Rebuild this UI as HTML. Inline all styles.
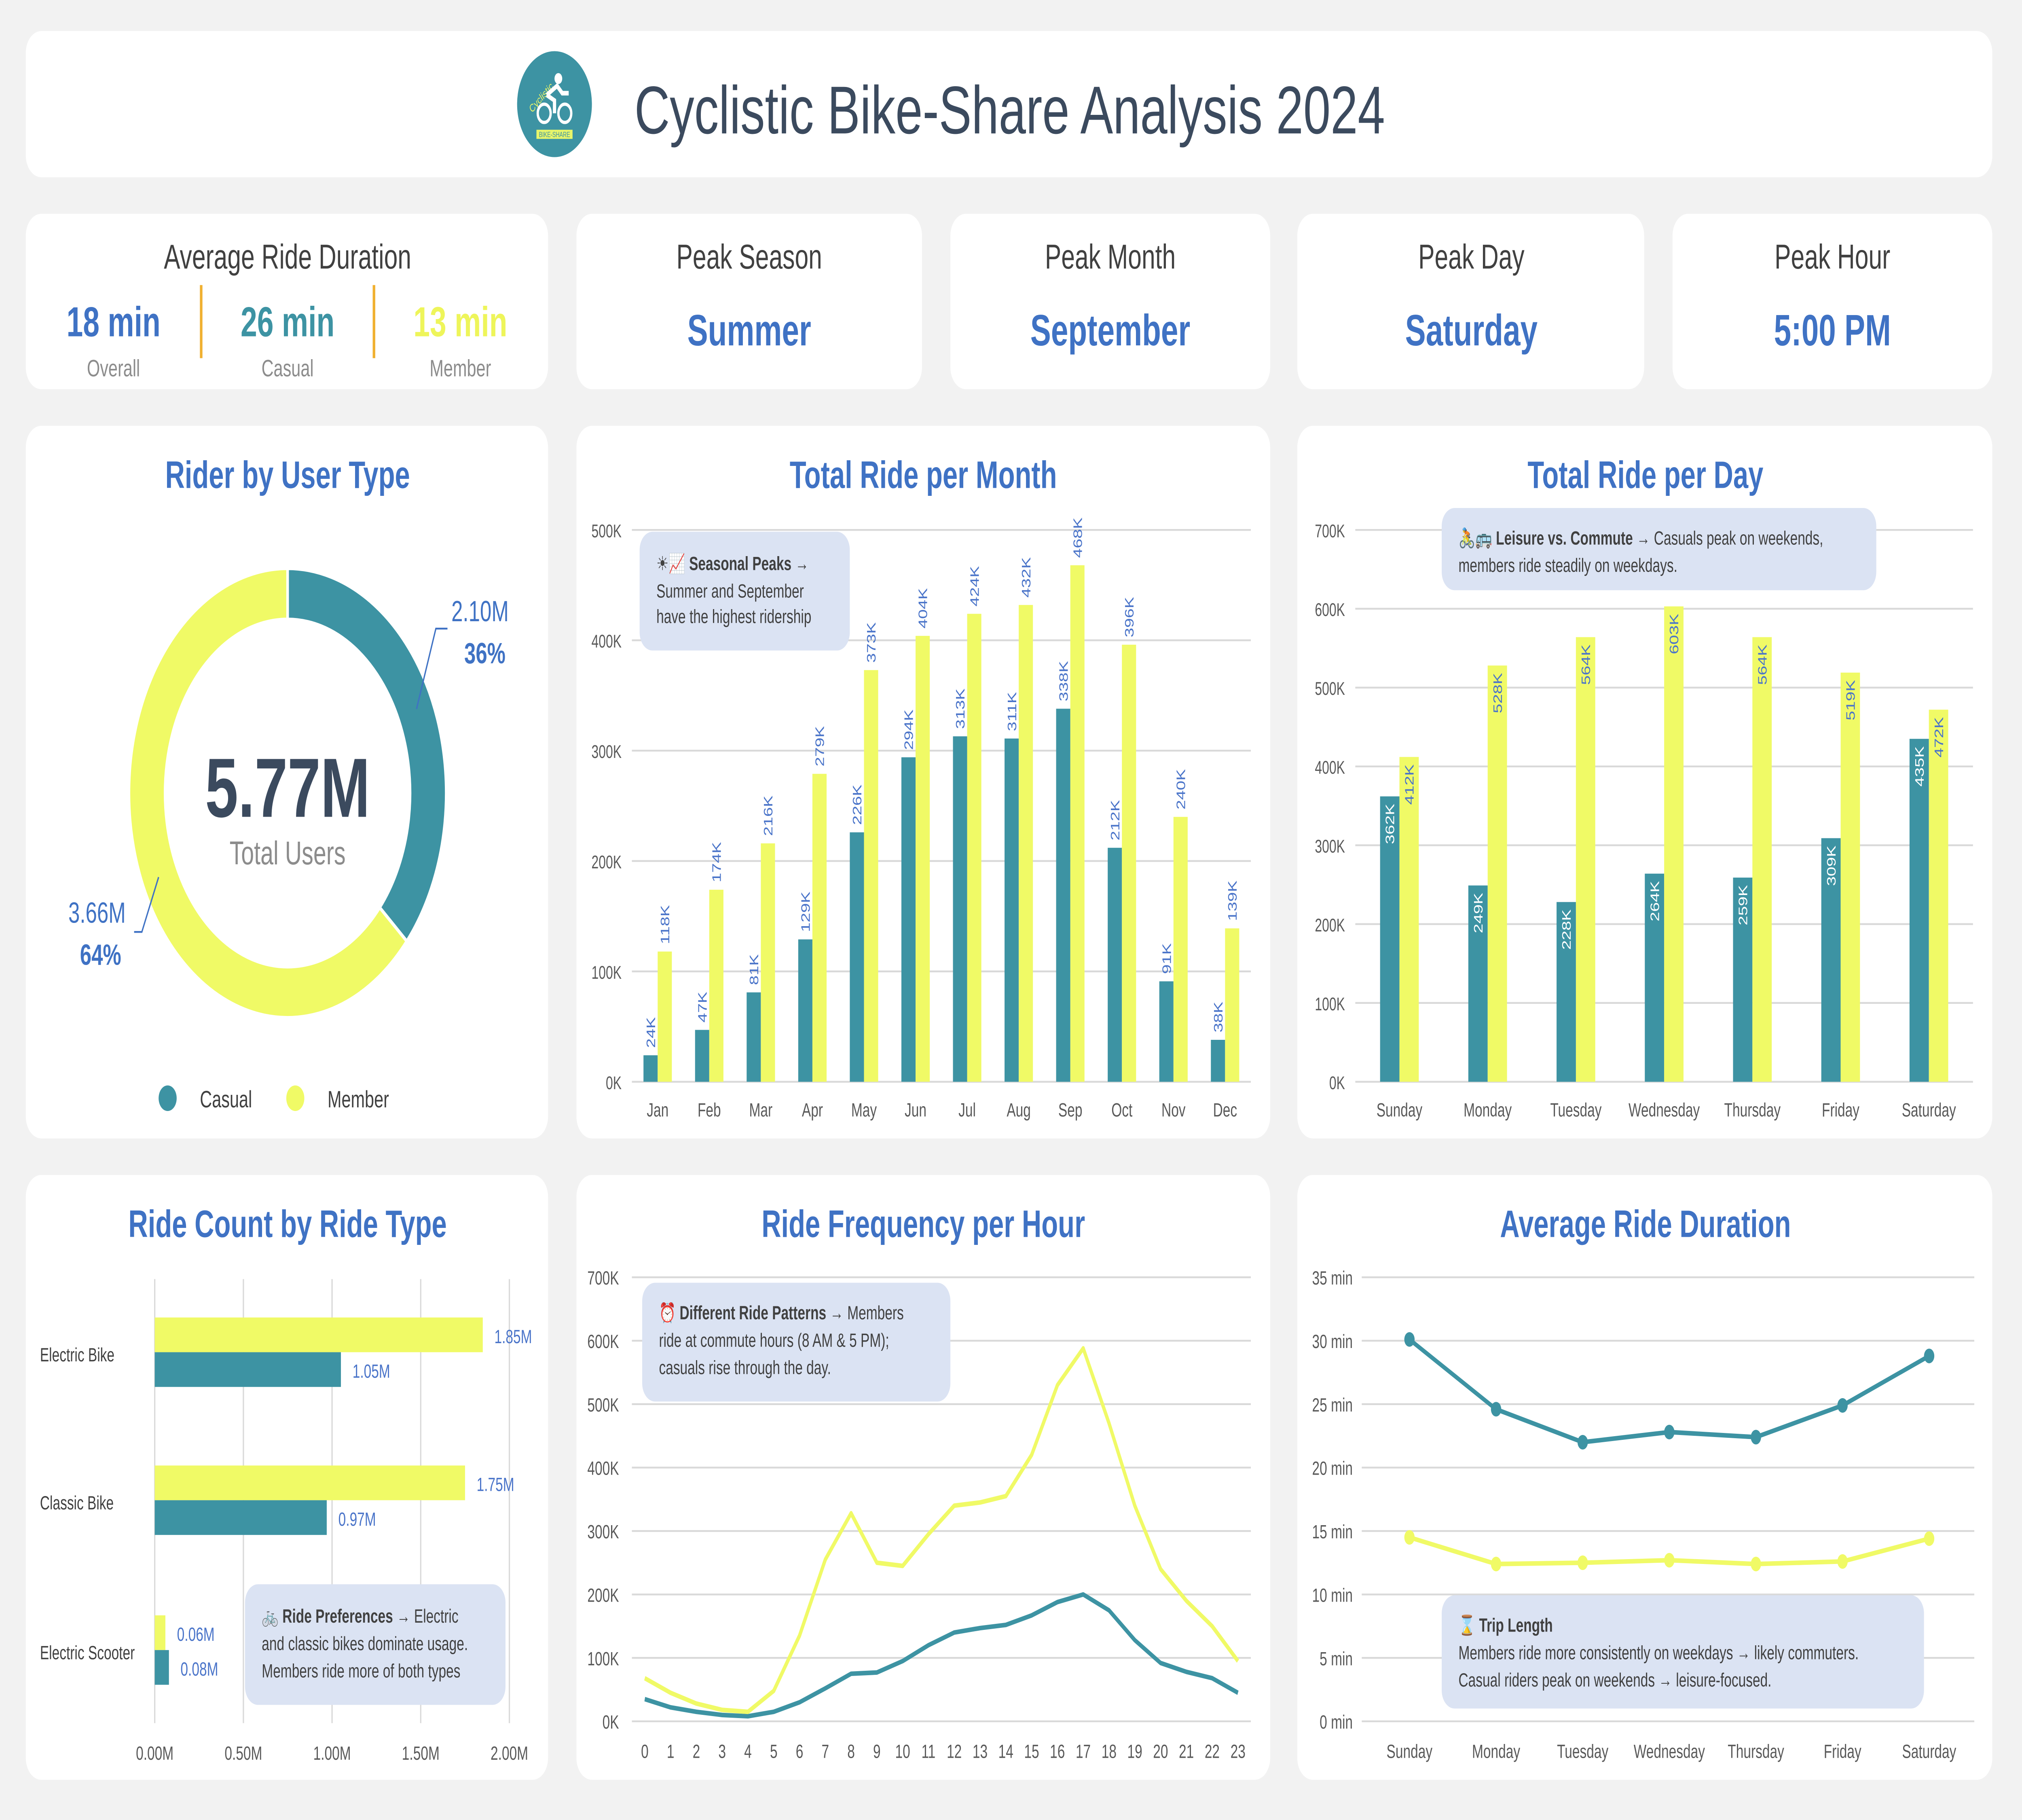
<!DOCTYPE html>
<html><head><meta charset="utf-8">
<style>
html,body{margin:0;padding:0;background:#f2f2f2;width:100%;height:100%;overflow:hidden;}
#wrap{position:fixed;left:0;top:0;width:100vw;height:100vh;overflow:hidden;}
svg{display:block;font-family:"Liberation Sans",sans-serif;width:100vw;height:100vh;}
</style></head>
<body>
<div id="wrap">
<svg id="root" viewBox="0 0 1568 996" preserveAspectRatio="none" xmlns="http://www.w3.org/2000/svg">
<rect x="0" y="0" width="1568" height="996" fill="#f2f2f2"/>
<g>
<rect x="20" y="17" width="1525" height="80" rx="12" fill="#fff"/>
<g>
<circle cx="430" cy="57" r="29" fill="#3d93a3"/>
<text x="406" y="60" font-size="6" fill="#e8f56a" transform="rotate(-40 412 52)">Cyclistic</text>
<circle cx="433" cy="43" r="3" fill="#fff"/>
<path d="M424 52 L432 47 L436 51 L441 51" stroke="#fff" stroke-width="2.5" fill="none"/>
<path d="M424 52 L430 55 L430 62" stroke="#fff" stroke-width="2.5" fill="none"/>
<circle cx="422" cy="62" r="5" stroke="#fff" stroke-width="1.8" fill="none"/>
<circle cx="438" cy="62" r="5" stroke="#fff" stroke-width="1.8" fill="none"/>
<rect x="416" y="71" width="28" height="5" fill="#e8f56a"/>
<text x="430" y="75" font-size="4" fill="#3d93a3" text-anchor="middle">BIKE-SHARE</text>
</g>
<text x="492" y="73" font-size="37" fill="#3b4a5e" textLength="582" lengthAdjust="spacingAndGlyphs">Cyclistic Bike-Share Analysis 2024</text>
</g>
<g>
<rect x="20" y="117" width="405" height="96" rx="12" fill="#fff"/>
<text x="223" y="147" font-size="19" fill="#404040" text-anchor="middle">Average Ride Duration</text>
<text x="88" y="184" font-size="23" fill="#3f72c4" font-weight="bold" text-anchor="middle">18 min</text>
<text x="88" y="206" font-size="13" fill="#8c8c8c" text-anchor="middle">Overall</text>
<rect x="155" y="156" width="2" height="40" fill="#f0b030"/>
<text x="223" y="184" font-size="23" fill="#3d93a3" font-weight="bold" text-anchor="middle">26 min</text>
<text x="223" y="206" font-size="13" fill="#8c8c8c" text-anchor="middle">Casual</text>
<rect x="289" y="156" width="2" height="40" fill="#f0b030"/>
<text x="357" y="184" font-size="23" fill="#eef55a" font-weight="bold" text-anchor="middle">13 min</text>
<text x="357" y="206" font-size="13" fill="#8c8c8c" text-anchor="middle">Member</text>
</g>
<g>
<rect x="447" y="117" width="268" height="96" rx="12" fill="#fff"/>
<text x="581" y="147" font-size="19" fill="#404040" text-anchor="middle">Peak Season</text>
<text x="581" y="189" font-size="24" fill="#3f72c4" font-weight="bold" text-anchor="middle">Summer</text>
</g>
<g>
<rect x="737" y="117" width="248" height="96" rx="12" fill="#fff"/>
<text x="861" y="147" font-size="19" fill="#404040" text-anchor="middle">Peak Month</text>
<text x="861" y="189" font-size="24" fill="#3f72c4" font-weight="bold" text-anchor="middle">September</text>
</g>
<g>
<rect x="1006" y="117" width="269" height="96" rx="12" fill="#fff"/>
<text x="1141" y="147" font-size="19" fill="#404040" text-anchor="middle">Peak Day</text>
<text x="1141" y="189" font-size="24" fill="#3f72c4" font-weight="bold" text-anchor="middle">Saturday</text>
</g>
<g>
<rect x="1297" y="117" width="248" height="96" rx="12" fill="#fff"/>
<text x="1421" y="147" font-size="19" fill="#404040" text-anchor="middle">Peak Hour</text>
<text x="1421" y="189" font-size="24" fill="#3f72c4" font-weight="bold" text-anchor="middle">5:00 PM</text>
</g>
<rect x="20" y="233" width="405" height="390" rx="12" fill="#fff"/>
<rect x="447" y="233" width="538" height="390" rx="12" fill="#fff"/>
<rect x="1006" y="233" width="539" height="390" rx="12" fill="#fff"/>
<rect x="20" y="643" width="405" height="331" rx="12" fill="#fff"/>
<rect x="447" y="643" width="538" height="331" rx="12" fill="#fff"/>
<rect x="1006" y="643" width="539" height="331" rx="12" fill="#fff"/>
<g font-weight="bold" font-size="21" fill="#3f72c4" text-anchor="middle">
<text x="223" y="267">Rider by User Type</text>
<text x="716" y="267">Total Ride per Month</text>
<text x="1276" y="267">Total Ride per Day</text>
<text x="223" y="677">Ride Count by Ride Type</text>
<text x="716" y="677">Ride Frequency per Hour</text>
<text x="1276" y="677">Average Ride Duration</text>
</g>
<g id="donut"></g>
<g id="month"></g>
<g id="day"></g>
<g id="rtype"></g>
<g id="hour"></g>
<g id="dur"></g>
<g>
<rect x="496" y="291" width="163" height="65" rx="10" fill="#dbe3f3"/>
<text x="509" y="312" font-size="10.5" fill="#404040"><tspan>☀📈 </tspan><tspan font-weight="bold">Seasonal Peaks</tspan> →</text>
<text x="509" y="327" font-size="10.5" fill="#404040">Summer and September</text>
<text x="509" y="341" font-size="10.5" fill="#404040">have the highest ridership</text>
</g>
<g>
<rect x="1118" y="278" width="337" height="45" rx="10" fill="#dbe3f3"/>
<text x="1131" y="298" font-size="10.5" fill="#404040"><tspan>🚴🚌 </tspan><tspan font-weight="bold">Leisure vs. Commute</tspan> → Casuals peak on weekends,</text>
<text x="1131" y="313" font-size="10.5" fill="#404040">members ride steadily on weekdays.</text>
</g>
<g>
<rect x="190" y="867" width="202" height="66" rx="10" fill="#dbe3f3"/>
<text x="203" y="888" font-size="10.5" fill="#404040"><tspan>🚲 </tspan><tspan font-weight="bold">Ride Preferences</tspan> → Electric</text>
<text x="203" y="903" font-size="10.5" fill="#404040">and classic bikes dominate usage.</text>
<text x="203" y="918" font-size="10.5" fill="#404040">Members ride more of both types</text>
</g>
<g>
<rect x="498" y="702" width="239" height="65" rx="10" fill="#dbe3f3"/>
<text x="511" y="722" font-size="10.5" fill="#404040"><tspan>⏰ </tspan><tspan font-weight="bold">Different Ride Patterns</tspan> → Members</text>
<text x="511" y="737" font-size="10.5" fill="#404040">ride at commute hours (8 AM &amp; 5 PM);</text>
<text x="511" y="752" font-size="10.5" fill="#404040">casuals rise through the day.</text>
</g>
<g>
<rect x="1118" y="873" width="374" height="62" rx="10" fill="#dbe3f3"/>
<text x="1131" y="893" font-size="10.5" fill="#404040"><tspan>⌛ </tspan><tspan font-weight="bold">Trip Length</tspan></text>
<text x="1131" y="908" font-size="10.5" fill="#404040">Members ride more consistently on weekdays → likely commuters.</text>
<text x="1131" y="923" font-size="10.5" fill="#404040">Casual riders peak on weekends → leisure-focused.</text>
</g>
</svg>
</div>
<script>
const TEAL="#3d93a3", YEL="#f0fa66", LBL="#4a74c9", AX="#595959", GRID="#d9d9d9";
const userTypes=["Casual","Member"];
const userCounts=[2.10,3.66];
const userPct=["36%","64%"];
const totalLabel="5.77M";
const months=["Jan","Feb","Mar","Apr","May","Jun","Jul","Aug","Sep","Oct","Nov","Dec"];
const monthCasual=[24,47,81,129,226,294,313,311,338,212,91,38];
const monthMember=[118,174,216,279,373,404,424,432,468,396,240,139];
const monthTicks=[0,100,200,300,400,500];
const days=["Sunday","Monday","Tuesday","Wednesday","Thursday","Friday","Saturday"];
const dayCasual=[362,249,228,264,259,309,435];
const dayMember=[412,528,564,603,564,519,472];
const dayTicks=[0,100,200,300,400,500,600,700];
const rideTypes=["Electric Bike","Classic Bike","Electric Scooter"];
const rideMember=[1.85,1.75,0.06];
const rideCasual=[1.05,0.97,0.08];
const rideTicks=[0,0.5,1.0,1.5,2.0];
const hours=[0,1,2,3,4,5,6,7,8,9,10,11,12,13,14,15,16,17,18,19,20,21,22,23];
const hourMember=[68,45,28,18,15,48,135,255,328,250,245,295,340,345,355,420,530,588,470,340,240,190,150,95];
const hourCasual=[35,22,15,10,8,15,30,52,75,77,95,120,140,147,152,167,188,200,175,128,92,78,68,45];
const hourTicks=[0,100,200,300,400,500,600,700];
const durCasual=[30.1,24.6,22.0,22.8,22.4,24.9,28.8];
const durMember=[14.5,12.4,12.5,12.7,12.4,12.6,14.4];
const durTicks=[0,5,10,15,20,25,30,35];

const NS="http://www.w3.org/2000/svg";
function mk(parent,tag,attrs,txt){const e=document.createElementNS(NS,tag);for(const k in attrs)e.setAttribute(k,attrs[k]);if(txt!==undefined)e.textContent=txt;parent.appendChild(e);return e;}

(function(){
const g=document.getElementById("donut");
const cx=223,cy=434,R=123,r=95;
const total=userCounts[0]+userCounts[1];
let a0=-Math.PI/2;
const cols=[TEAL,YEL];
userCounts.forEach((v,i)=>{
 const a1=a0+v/total*2*Math.PI;
 const large=(a1-a0)>Math.PI?1:0;
 const p=`M${cx+R*Math.cos(a0)} ${cy+R*Math.sin(a0)} A${R} ${R} 0 ${large} 1 ${cx+R*Math.cos(a1)} ${cy+R*Math.sin(a1)} L${cx+r*Math.cos(a1)} ${cy+r*Math.sin(a1)} A${r} ${r} 0 ${large} 0 ${cx+r*Math.cos(a0)} ${cy+r*Math.sin(a0)} Z`;
 const s=mk(g,"path",{d:p,fill:cols[i],stroke:"#fff","stroke-width":2});
 
 
 a0=a1;
});
mk(g,"text",{x:cx,y:447,"font-size":46,"font-weight":"bold",fill:"#3b4a5e","text-anchor":"middle"},totalLabel);
mk(g,"text",{x:cx,y:473,"font-size":18,fill:"#8c8c8c","text-anchor":"middle"},"Total Users");
mk(g,"path",{d:"M323 388 L338 344 L347 344",stroke:"#3f72c4",fill:"none","stroke-width":1});
mk(g,"text",{x:350,y:340,"font-size":16,fill:"#3f72c4"},userCounts[0].toFixed(2)+"M");
mk(g,"text",{x:360,y:363,"font-size":16,fill:"#3f72c4","font-weight":"bold"},userPct[0]);
mk(g,"path",{d:"M123 480 L110 510 L104 510",stroke:"#3f72c4",fill:"none","stroke-width":1});
mk(g,"text",{x:53,y:505,"font-size":16,fill:"#3f72c4"},userCounts[1].toFixed(2)+"M");
mk(g,"text",{x:62,y:528,"font-size":16,fill:"#3f72c4","font-weight":"bold"},userPct[1]);
const l1=mk(g,"circle",{cx:130,cy:601,r:7,fill:TEAL});


mk(g,"text",{x:155,y:606,"font-size":13,fill:"#404040"},userTypes[0]);
const l2=mk(g,"circle",{cx:229,cy:601,r:7,fill:YEL});


mk(g,"text",{x:254,y:606,"font-size":13,fill:"#404040"},userTypes[1]);
})();

function vbar(id,cats,A,B,ticks,x0,x1,y0,y1,bw,tickfmt,inside){
 const g=document.getElementById(id);
 const maxV=ticks[ticks.length-1];
 const Y=v=>y0-(v/maxV)*(y0-y1);
 const step=(x1-x0)/cats.length;
 ticks.forEach(t=>{
  mk(g,"line",{x1:x0,x2:x1,y1:Y(t),y2:Y(t),stroke:GRID,"stroke-width":1});
  mk(g,"text",{x:x0-8,y:Y(t)+4,"font-size":10,fill:AX,"text-anchor":"end"},tickfmt(t));
 });
 cats.forEach((c,i)=>{
  const cx=x0+step*(i+0.5);
  const b1=mk(g,"rect",{x:cx-bw,y:Y(A[i]),width:bw,height:y0-Y(A[i]),fill:TEAL});
  
  
  const b2=mk(g,"rect",{x:cx,y:Y(B[i]),width:bw,height:y0-Y(B[i]),fill:YEL});
  
  
  const t1=inside?Y(A[i])+4:Y(A[i])-4, t2=inside?Y(B[i])+4:Y(B[i])-4;
  const anc=inside?"end":"start";
  mk(g,"text",{x:cx-bw/2+3.5,y:t1,"font-size":9.5,fill:inside?"#ffffff":LBL,"text-anchor":anc,transform:`rotate(-90 ${cx-bw/2+3.5} ${t1})`},A[i]+"K");
  mk(g,"text",{x:cx+bw/2+3.5,y:t2,"font-size":9.5,fill:LBL,"text-anchor":anc,transform:`rotate(-90 ${cx+bw/2+3.5} ${t2})`},B[i]+"K");
  mk(g,"text",{x:cx,y:y0+19,"font-size":10.5,fill:AX,"text-anchor":"middle"},c);
 });
}
vbar("month",months,monthCasual,monthMember,monthTicks,490,970,592,290,11,t=>t+"K",false);
vbar("day",days,dayCasual,dayMember,dayTicks,1051,1530,592,290,15,t=>t+"K",true);

(function(){
 const g=document.getElementById("rtype");
 const x0=120,x1=395,maxV=rideTicks[rideTicks.length-1];
 const X=v=>x0+v/maxV*(x1-x0);
 rideTicks.forEach(t=>{
  mk(g,"line",{x1:X(t),x2:X(t),y1:700,y2:943,stroke:GRID,"stroke-width":1});
  mk(g,"text",{x:X(t),y:963,"font-size":10.5,fill:AX,"text-anchor":"middle"},t.toFixed(2)+"M");
 });
 const rowY=[721,802,884];
 rideTypes.forEach((c,i)=>{
  const y=rowY[i];
  const b1=mk(g,"rect",{x:x0,y:y,width:X(rideMember[i])-x0,height:19,fill:YEL});
  
  
  const b2=mk(g,"rect",{x:x0,y:y+19,width:X(rideCasual[i])-x0,height:19,fill:TEAL});
  
  
  mk(g,"text",{x:X(rideMember[i])+9,y:y+14,"font-size":10.5,fill:LBL},rideMember[i].toFixed(2)+"M");
  mk(g,"text",{x:X(rideCasual[i])+9,y:y+33,"font-size":10.5,fill:LBL},rideCasual[i].toFixed(2)+"M");
  mk(g,"text",{x:31,y:y+24,"font-size":10.5,fill:"#404040"},c);
 });
})();

function lineChart(id,cats,series,ticks,x0,x1,y0,y1,tickfmt,markers,names){
 const g=document.getElementById(id);
 const maxV=ticks[ticks.length-1];
 const Y=v=>y0-(v/maxV)*(y0-y1);
 const step=(x1-x0)/(cats.length-1);
 const X=i=>x0+i*step;
 ticks.forEach(t=>{
  mk(g,"line",{x1:x0-(markers?37:10),x2:x1+(markers?35:10),y1:Y(t),y2:Y(t),stroke:GRID,"stroke-width":1});
  mk(g,"text",{x:x0-(markers?44:20),y:Y(t)+4,"font-size":10.5,fill:AX,"text-anchor":"end"},tickfmt(t));
 });
 cats.forEach((c,i)=>mk(g,"text",{x:X(i),y:y0+20,"font-size":10.5,fill:AX,"text-anchor":"middle"},String(c)));
 series.forEach((s,k)=>{
  const pts=s.data.map((v,i)=>X(i)+","+Y(v)).join(" ");
  const pl=mk(g,"polyline",{points:pts,fill:"none",stroke:s.color,"stroke-width":2.5,"stroke-linejoin":"round"});
  
  
  if(markers) s.data.forEach((v,i)=>{
   const m=mk(g,"circle",{cx:X(i),cy:Y(v),r:4,fill:s.color});
   
   
  });
 });
}
lineChart("hour",hours,[{data:hourCasual,color:TEAL},{data:hourMember,color:YEL}],hourTicks,500,960,942,699,t=>t+"K",false,["line-casual-hourly","line-member-hourly"]);
lineChart("dur",days,[{data:durCasual,color:TEAL},{data:durMember,color:YEL}],durTicks,1093,1496,942,699,t=>t+" min",true,["line-casual-duration","line-member-duration"]);
</script>
</body></html>
